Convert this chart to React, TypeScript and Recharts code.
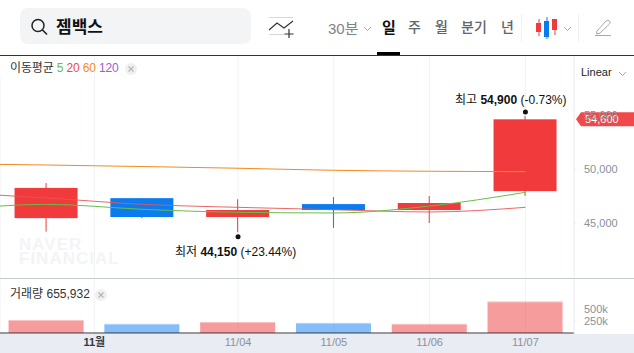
import React from "react";
import { ComposedChart, Bar, Line, XAxis, YAxis, CartesianGrid, ReferenceDot } from "recharts";

const FONT = '"Liberation Sans", "Noto Sans CJK KR", sans-serif';
const RED = "#f03a3c";
const BLUE = "#0a7cf0";

// -1 is the session before the first candle, only the averages reach it
const positions = [-1, 0, 1, 2, 3, 4, 5];
const opens = [null, 45450, 47300, 45550, 46750, 46200, 47950];
const closes = [null, 48250, 45550, 46200, 46200, 46850, 54600];
const highs = [null, 48700, 47300, 47200, 47400, 47500, 54900];
const lows = [null, 44200, 45450, 44150, 44550, 45000, 47500];
const ma5 = [46200, 46730, 46270, 45990, 45930, 46570, 47840];
const ma20 = [47820, 47320, 46730, 46450, 46230, 46020, 46450];
const ma60 = [50490, 50370, 50230, 50070, 49880, 49790, 49750];
const volumes = [null, 270000, 190000, 230000, 210000, 190000, 655932];

const xTicks = [0.5, 2, 3, 4, 5];
const xTickLabels: Record<string, string> = { "0.5": "11월", "2": "11/04", "3": "11/05", "4": "11/06", "5": "11/07" };
const priceTicks = [45000, 50000, 55000];
const volumeTicks = [250000, 500000];
const X_DOMAIN: [number, number] = [-0.485, 5.507];

const rows = positions.map((x, i) => ({
    x,
    open: opens[i],
    close: closes[i],
    high: highs[i],
    low: lows[i],
    range: lows[i] == null ? null : [lows[i], highs[i]],
    ma5: ma5[i],
    ma20: ma20[i],
    ma60: ma60[i],
    volume: volumes[i],
}));

function Candle(props: any) {
    const { x, y, width, height, payload } = props;
    if (payload.open == null) return null;
    const perUnit = height / (payload.high - payload.low);
    const top = y + (payload.high - Math.max(payload.open, payload.close)) * perUnit;
    const bottom = y + (payload.high - Math.min(payload.open, payload.close)) * perUnit;
    const color = payload.close >= payload.open ? RED : BLUE;
    return (
        <g>
            <line x1={x + width / 2} x2={x + width / 2} y1={y} y2={y + height} stroke={color} strokeWidth={1} />
            <rect x={x} y={top} width={width} height={Math.max(bottom - top, 1)} fill={color} />
        </g>
    );
}

function VolumeBar(props: any) {
    const { x, y, width, height, payload } = props;
    if (payload.volume == null || !height) return null;
    const up = payload.close >= payload.open;
    return (
        <g>
            <rect x={x} y={y} width={width} height={height} fill={up ? "#f03a3c" : "#0a7cf0"} fillOpacity={0.5} />
            <rect x={x} y={y} width={width} height={1} fill="#ffffff" fillOpacity={0.4} />
        </g>
    );
}

function XTick(props: any) {
    const { x, y, payload } = props;
    const month = payload.value === 0.5;
    return (
        <text x={x} y={y + 5} textAnchor="middle" fontSize={11} fontFamily={FONT} fontWeight={month ? 700 : 400} fill={month ? "#333a42" : "#8b909a"}>
            {xTickLabels[String(payload.value)]}
        </text>
    );
}

function ExtremeMark(props: any) {
    const { cx, cy, label, value, change, above, textX } = props;
    const dotY = above ? cy - 4 : cy + 4.5;
    const textY = above ? cy - 12 : cy + 24;
    return (
        <g fontFamily={FONT} fontSize={12} fill="#111111">
            <circle cx={cx} cy={dotY} r={2.5} fill="#111111" />
            <text x={textX} y={textY}>
                {label} <tspan fontWeight={700}>{value}</tspan> {change}
            </text>
        </g>
    );
}

function PriceTag(props: any) {
    const { cy, text } = props;
    return (
        <g>
            <path d={`M576 ${cy} L581 ${cy - 7} H634 V${cy + 7} H581 Z`} fill={RED} fillOpacity={0.92} />
            <text x={585} y={cy + 4} fontSize={11} fontFamily={FONT} fill="#ffffff">{text}</text>
        </g>
    );
}

function Txt({ x, y, size = 12, color = "#333", weight = 400, children }: any) {
    return (
        <div style={{ position: "absolute", left: x, top: y, fontSize: size, color, fontWeight: weight, lineHeight: 1, whiteSpace: "nowrap" }}>
            {children}
        </div>
    );
}

function CloseDot({ x, y }: { x: number; y: number }) {
    return (
        <svg style={{ position: "absolute", left: x, top: y }} width={12} height={12}>
            <circle cx={6} cy={6} r={6} fill="#f0f0f1" />
            <path d="M3.5 3.5 L8.5 8.5 M8.5 3.5 L3.5 8.5" stroke="#b4b7bc" strokeWidth={1.2} />
        </svg>
    );
}

function Chevron({ x, y, color = "#a5a9b0" }: { x: number; y: number; color?: string }) {
    return (
        <svg style={{ position: "absolute", left: x, top: y }} width={9} height={6}>
            <path d="M1 1 L4.5 4.5 L8 1" fill="none" stroke={color} strokeWidth={1} />
        </svg>
    );
}

function Header() {
    return (
        <>
            <div style={{ position: "absolute", left: 20, top: 8, width: 231, height: 36, borderRadius: 8, background: "#f3f4f6" }} />
            <svg style={{ position: "absolute", left: 29, top: 17 }} width={20} height={20}>
                <circle cx={9} cy={8.5} r={6} fill="none" stroke="#222" strokeWidth={1.5} />
                <path d="M13.5 13 L18 17.5" stroke="#222" strokeWidth={1.6} />
            </svg>
            <Txt x={56} y={19} size={17} color="#111" weight={700}>젬백스</Txt>
            <svg style={{ position: "absolute", left: 268, top: 16 }} width={26} height={24}>
                <path d="M1 1.5 H25 M1 18.5 H17" stroke="#d5d7da" strokeWidth={1} />
                <path d="M1 14 L9 7 L16 12 L25 5" fill="none" stroke="#333" strokeWidth={1.2} />
                <path d="M21 13 V22 M16.5 18 H25.5" stroke="#333" strokeWidth={1.2} />
            </svg>
            <Txt x={328} y={21} size={15} color="#7c828b">30분</Txt>
            <Chevron x={363} y={26} />
            <Txt x={382} y={20} size={15} color="#111" weight={700}>일</Txt>
            <Txt x={408} y={20} size={14} color="#5f6670" weight={500}>주</Txt>
            <Txt x={435} y={20} size={14} color="#5f6670" weight={500}>월</Txt>
            <Txt x={461} y={20} size={14} color="#5f6670" weight={500}>분기</Txt>
            <Txt x={501} y={20} size={14} color="#5f6670" weight={500}>년</Txt>
            <div style={{ position: "absolute", left: 377, top: 52, width: 23, height: 3, background: "#000" }} />
            <div style={{ position: "absolute", left: 521, top: 14, width: 1, height: 28, background: "#eef0f2" }} />
            <div style={{ position: "absolute", left: 578, top: 14, width: 1, height: 28, background: "#eef0f2" }} />
            <svg style={{ position: "absolute", left: 535, top: 16 }} width={24} height={24}>
                <path d="M4 3 V20" stroke={RED} />
                <path d="M12 1 V23" stroke={BLUE} />
                <path d="M20 3 V19" stroke={RED} />
                <rect x={1} y={7} width={5} height={9} fill={RED} />
                <rect x={9} y={5} width={5} height={16} fill={BLUE} />
                <rect x={17} y={3} width={5} height={11} fill={RED} />
            </svg>
            <Chevron x={563} y={26} />
            <svg style={{ position: "absolute", left: 594, top: 18 }} width={18} height={20}>
                <path d="M3 13 L12 3 Q14 1.5 15.5 3 Q17 4.5 15.5 6 L6 15 L2.5 16 Z" fill="none" stroke="#a5a9b0" strokeWidth={1} />
                <path d="M1 17.5 H17" stroke="#a5a9b0" strokeWidth={1} />
            </svg>
            <div style={{ position: "absolute", left: 0, top: 55, width: 634, height: 1, background: "#333" }} />
        </>
    );
}

export default function App() {
    return (
        <div style={{ position: "absolute", left: 0, top: 0, width: 634, height: 353, overflow: "hidden", background: "#fff", fontFamily: FONT }}>
            <Header />
            <div style={{ position: "absolute", left: 0, top: 334, width: 634, height: 19, background: "#e9ecf2" }} />
            <div style={{ position: "absolute", left: 19, top: 238, fontSize: 17, lineHeight: "14px", fontWeight: 700, color: "#f3f4f6", letterSpacing: 1 }}>
                NAVER<br />FINANCIAL
            </div>
            <div style={{ position: "absolute", left: 0, top: 56 }}>
                <ComposedChart width={634} height={221} data={rows} margin={{ top: 0, right: 0, bottom: 0, left: 0 }}>
                    <CartesianGrid horizontal={false} stroke="#f0f2f6" />
                    <XAxis dataKey="x" type="number" domain={X_DOMAIN} ticks={xTicks} allowDataOverflow hide />
                    <YAxis
                        orientation="right"
                        width={60}
                        domain={[40000, 60463]}
                        ticks={priceTicks}
                        tickFormatter={(v: number) => v.toLocaleString("en-US")}
                        tick={{ fontSize: 11, fill: "#8b909a", fontFamily: FONT }}
                        axisLine={{ stroke: "#eef0f4" }}
                        tickLine={{ stroke: "#eef0f4" }}
                        tickSize={3}
                        tickMargin={7}
                        interval={0}
                        allowDataOverflow
                    />
                    <Bar dataKey="range" barSize={63} shape={<Candle />} isAnimationActive={false} />
                    <Line dataKey="ma60" type="monotone" stroke="#f5891f" strokeWidth={1} dot={false} isAnimationActive={false} />
                    <Line dataKey="ma20" type="monotone" stroke="#ea5454" strokeWidth={1} strokeOpacity={0.9} dot={false} isAnimationActive={false} />
                    <Line dataKey="ma5" type="monotone" stroke="#68be48" strokeWidth={1} dot={false} isAnimationActive={false} />
                    <ReferenceDot x={5} y={54900} ifOverflow="visible" shape={<ExtremeMark above label="최고" value="54,900" change="(-0.73%)" textX={455} />} />
                    <ReferenceDot x={2} y={44150} ifOverflow="visible" shape={<ExtremeMark label="최저" value="44,150" change="(+23.44%)" textX={175} />} />
                    <ReferenceDot x={5} y={54600} ifOverflow="visible" shape={<PriceTag text="54,600" />} />
                </ComposedChart>
            </div>
            <div style={{ position: "absolute", left: 0, top: 278 }}>
                <ComposedChart width={634} height={75} data={rows} margin={{ top: 0, right: 0, bottom: 0, left: 0 }}>
                    <CartesianGrid horizontal={false} stroke="#f0f2f6" />
                    <XAxis
                        dataKey="x"
                        type="number"
                        domain={X_DOMAIN}
                        ticks={xTicks}
                        allowDataOverflow
                        height={20}
                        tick={<XTick />}
                        tickLine={false}
                        axisLine={{ stroke: "#333333" }}
                    />
                    <YAxis
                        orientation="right"
                        width={60}
                        domain={[0, 1146000]}
                        ticks={volumeTicks}
                        tickFormatter={(v: number) => `${v / 1000}k`}
                        tick={{ fontSize: 11, fill: "#8b909a", fontFamily: FONT }}
                        axisLine={{ stroke: "#eef0f4" }}
                        tickLine={{ stroke: "#eef0f4" }}
                        tickSize={3}
                        tickMargin={7}
                        interval={0}
                    />
                    <Bar dataKey="volume" barSize={75} shape={<VolumeBar />} isAnimationActive={false} />
                </ComposedChart>
            </div>
            <div style={{ position: "absolute", left: 0, top: 278, width: 634, height: 1, background: "#c2c9ce" }} />

            <div style={{ position: "absolute", left: 0, top: 56, width: 94, height: 20, background: "#fff" }} />
            <div style={{ position: "absolute", left: 10, top: 62, fontSize: 12, lineHeight: 1, whiteSpace: "nowrap", color: "#333", letterSpacing: -0.15 }}>
                이동평균 <span style={{ color: "#68be48" }}>5</span> <span style={{ color: "#ea4a4a" }}>20</span> <span style={{ color: "#f5891f" }}>60</span> <span style={{ color: "#a05ad2" }}>120</span>
            </div>
            <CloseDot x={125} y={63} />
            <Txt x={581} y={67} size={11} color="#222">Linear</Txt>
            <Chevron x={618} y={71} />
            <Txt x={10} y={288} size={12} color="#333">거래량 655,932</Txt>
            <CloseDot x={95} y={289} />
        </div>
    );
}
